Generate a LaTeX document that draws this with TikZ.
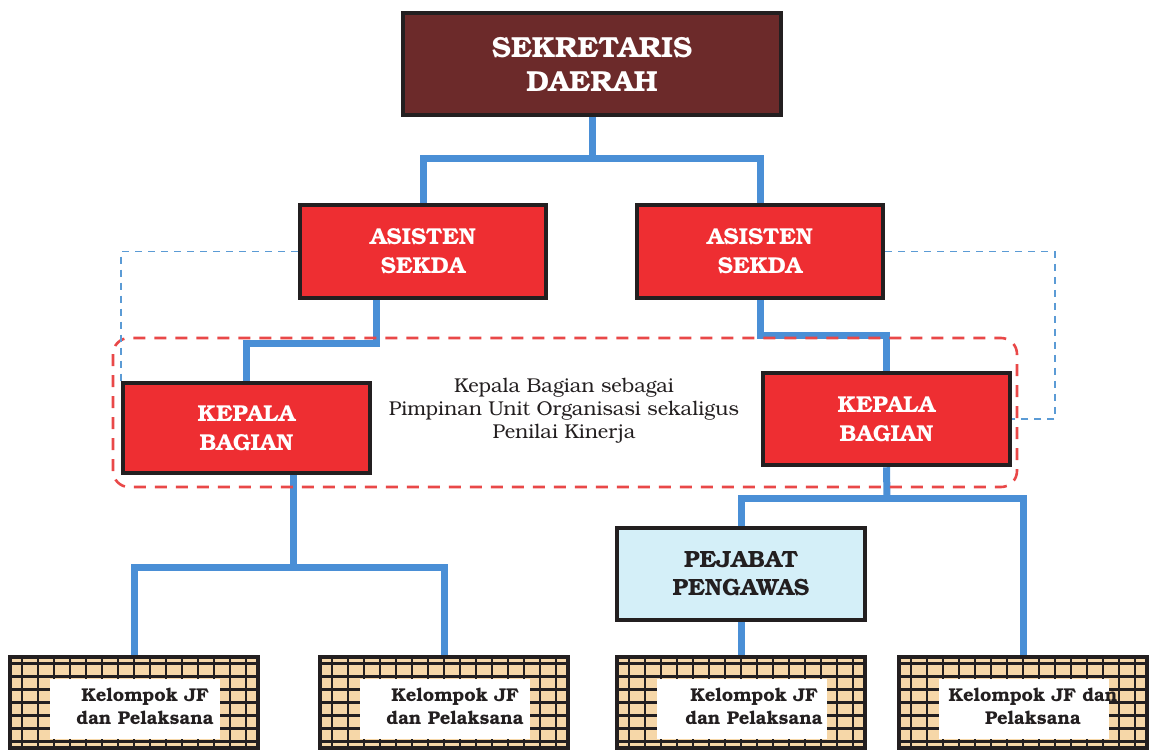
\documentclass[tikz,border=0pt]{standalone}
\usepackage{fontspec}
\setmainfont{TeX Gyre Bonum}
\usetikzlibrary{backgrounds,calc}
\definecolor{maroon}{HTML}{6C2A2A}
\definecolor{boxred}{HTML}{EE2E32}
\definecolor{connblue}{HTML}{4A8FD6}
\definecolor{dashblue}{HTML}{5B9BD5}
\definecolor{dashred}{HTML}{E94848}
\definecolor{paleblue}{HTML}{D4EFF8}
\definecolor{beige}{HTML}{F6D7A8}
\definecolor{ink}{HTML}{231F20}
\tikzset{
  x=1pt, y=-1pt,
  orgbox/.style={draw=ink, line width=4.5pt, inner sep=0pt, align=center},
  bigtxt/.style={font=\fontsize{29}{34}\selectfont\bfseries, text=white},
  midtxt/.style={font=\fontsize{23}{29}\selectfont\bfseries, text=white},
  pjtxt/.style={font=\fontsize{23.5}{28}\selectfont\bfseries, text=ink},
  jfbox/.style={draw=ink, line width=4pt, inner sep=0pt, minimum width=248pt, minimum height=91pt,
    path picture={
      \fill[beige] (path picture bounding box.south west) rectangle (path picture bounding box.north east);
      \draw[ink, line width=2.3pt] ([xshift=2pt,yshift=1pt]path picture bounding box.south west) grid[xstep=16pt,ystep=13pt] (path picture bounding box.north east);
      \fill[white] ([xshift=40pt,yshift=9pt]path picture bounding box.south west) rectangle ([xshift=-38pt,yshift=-22pt]path picture bounding box.north east);
    }},
  jftxt/.style={font=\fontsize{18.5}{23}\selectfont\bfseries, text=ink, align=center, inner sep=0pt},
  conn/.style={draw=connblue, line width=7pt},
  bdash/.style={draw=dashblue, line width=1.8pt, dash pattern=on 7pt off 6pt},
  rdash/.style={draw=dashred, line width=2.6pt, dash pattern=on 12pt off 9pt, rounded corners=16pt},
}
\begin{document}
\begin{tikzpicture}
\useasboundingbox (0,0) rectangle (1152,753);
% main boxes
\node[orgbox, fill=maroon, minimum width=378pt, minimum height=102pt, bigtxt] (sek) at (592,64) {SEKRETARIS\\DAERAH};
\node[orgbox, fill=boxred, minimum width=246pt, minimum height=93pt, midtxt] (as1) at (423,251.5) {ASISTEN\\SEKDA};
\node[orgbox, fill=boxred, minimum width=246pt, minimum height=93pt, midtxt] (as2) at (760,251.5) {ASISTEN\\SEKDA};
\node[orgbox, fill=boxred, minimum width=247pt, minimum height=90pt, midtxt] (kb1) at (246.5,428) {KEPALA\\BAGIAN};
\node[orgbox, fill=boxred, minimum width=247pt, minimum height=92pt, midtxt] (kb2) at (886.5,419) {KEPALA\\BAGIAN};
\node[orgbox, fill=paleblue, minimum width=248pt, minimum height=92pt, pjtxt] (pj) at (741,574) {PEJABAT\\PENGAWAS};
% kelompok boxes
\node[jfbox] (k1) at (134,702.5) {};
\node[jfbox] (k2) at (444,702.5) {};
\node[jfbox] (k3) at (741,702.5) {};
\node[jfbox] (k4) at (1023,702.5) {};
\node[jftxt] (k1t) at ($(k1)+(11,4)$) {Kelompok JF\\dan Pelaksana};
\node[jftxt] (k2t) at ($(k2)+(11,4)$) {Kelompok JF\\dan Pelaksana};
\node[jftxt] (k3t) at ($(k3)+(13,4)$) {Kelompok JF\\dan Pelaksana};
\node[jftxt] (k4t) at ($(k4)+(10,4)$) {Kelompok JF dan\\Pelaksana};
% note
\node[font=\fontsize{20}{23}\selectfont, text=ink, align=center] (note) at (564,411) {Kepala Bagian sebagai\\Pimpinan Unit Organisasi sekaligus\\Penilai Kinerja};
\begin{pgfonlayer}{background}
  \coordinate (b1) at (592,158);
  \coordinate (a1) at (376,343);
  \coordinate (a2) at (823,335);
  \coordinate (c1) at (293,567);
  \coordinate (c2) at (887,498);
  \coordinate (d1) at (1055,330);
  \draw[conn] (sek.south) -- (b1);
  \draw[conn] (as1.north) |- (b1) -| (as2.north);
  \draw[conn] (as1.south -| a1) -- (a1) -| (kb1.north);
  \draw[conn] (as2.south) |- (a2) -| (kb2.north);
  \draw[conn] (kb1.south -| c1) -- (c1);
  \draw[conn] (k1.north) |- (c1) -| (k2.north);
  \draw[conn] (kb2.south) -- (c2);
  \draw[conn] (pj.north) |- (c2) -| (k4.north);
  \draw[conn] (pj.south) -- (k3.north);
  \draw[rdash] (113,338) rectangle (1017,487);
  \draw[bdash] (as1.west) -| (kb1.north west);
  \draw[bdash] (as2.east) -| (d1) |- (kb2.east);
\end{pgfonlayer}
\end{tikzpicture}
\end{document}
